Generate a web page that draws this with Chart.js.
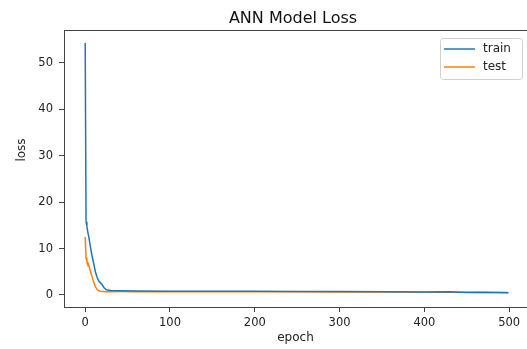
<!DOCTYPE html>
<html>
<head>
<meta charset="utf-8">
<script src="https://cdn.jsdelivr.net/npm/chart.js@4/dist/chart.umd.min.js"></script>
<style>
  html, body { margin: 0; padding: 0; background: #fff; }
  .lineChart { width: 527px; height: 349px; }
</style>
</head>
<body>
<div class="lineChart"><canvas></canvas></div>
<script>
const epochs = [0, 1, 2, 3, 4, 6, 8, 10, 12, 14, 16, 18, 20, 22, 25, 30, 40, 60, 100, 150, 200, 250, 300, 350, 400, 430, 450, 470, 499];
const trainLoss = [54.3, 15.8, 14.8, 13.6, 12.8, 10.5, 8.5, 6.8, 5.0, 3.8, 3.0, 2.6, 2.2, 1.6, 1.1, 0.95, 0.9, 0.85, 0.8, 0.8, 0.78, 0.75, 0.72, 0.68, 0.62, 0.7, 0.55, 0.6, 0.45];
const testLoss = [12.5, 8.0, 7.2, 7.0, 6.5, 5.2, 4.0, 2.8, 1.8, 1.2, 0.9, 0.8, 0.75, 0.72, 0.7, 0.7, 0.72, 0.7, 0.7, 0.68, 0.68, 0.66, 0.65, 0.62, 0.6, 0.58, 0.58, 0.55, 0.55];
const seriesNames = ["train", "test"];
const xTicks = [0, 100, 200, 300, 400, 500];
const yTicks = [0, 10, 20, 30, 40, 50];

const BLUE = "#1f77b4";
const ORANGE = "#ff7f0e";
const FONT = "'DejaVu Sans', sans-serif";

Chart.defaults.font.family = FONT;
Chart.defaults.color = "#222";

// top spine (the right one falls just outside the picture)
const frame = {
  id: "frame",
  afterDraw(chart) {
    const { ctx, chartArea: a } = chart;
    ctx.save();
    ctx.strokeStyle = "#444";
    ctx.lineWidth = 1;
    ctx.beginPath();
    ctx.moveTo(a.left, a.top + 0.5);
    ctx.lineTo(a.right, a.top + 0.5);
    ctx.stroke();
    ctx.restore();
  }
};

// matplotlib style title, legend box and ylabel
const extras = {
  id: "extras",
  afterDraw(chart) {
    const { ctx } = chart;
    ctx.save();

    ctx.fillStyle = "#111";
    ctx.font = "16px " + FONT;
    ctx.textAlign = "center";
    ctx.textBaseline = "middle";
    ctx.fillText("ANN Model Loss", 293, 19);

    ctx.fillStyle = "rgba(255,255,255,0.8)";
    ctx.strokeStyle = "#d0d0d0";
    ctx.lineWidth = 1;
    ctx.beginPath();
    ctx.roundRect(440.5, 38.5, 82, 41, 3);
    ctx.fill();
    ctx.stroke();

    const colors = [BLUE, ORANGE];
    seriesNames.forEach((name, i) => {
      const y = 49 + i * 18;
      ctx.strokeStyle = colors[i];
      ctx.lineWidth = 1.5;
      ctx.beginPath();
      ctx.moveTo(444, y);
      ctx.lineTo(475, y);
      ctx.stroke();
      ctx.fillStyle = "#222";
      ctx.font = "12px " + FONT;
      ctx.textBaseline = "middle";
      ctx.textAlign = "left";
      ctx.fillText(name, 483, y);
    });

    ctx.translate(22, 150);
    ctx.rotate(-Math.PI / 2);
    ctx.textAlign = "center";
    ctx.textBaseline = "middle";
    ctx.font = "12px " + FONT;
    ctx.fillText("loss", 0, 0);
    ctx.restore();
  }
};

const ctx = document.querySelector(".lineChart canvas");

new Chart(ctx, {
  type: "line",
  data: {
    datasets: [
      {
        label: seriesNames[0],
        data: epochs.map((e, i) => ({ x: e, y: trainLoss[i] })),
        borderColor: BLUE,
        borderWidth: 1.5,
        pointRadius: 0,
        tension: 0
      },
      {
        label: seriesNames[1],
        data: epochs.map((e, i) => ({ x: e, y: testLoss[i] })),
        borderColor: ORANGE,
        borderWidth: 1.5,
        pointRadius: 0,
        tension: 0
      }
    ]
  },
  options: {
    responsive: true,
    maintainAspectRatio: false,
    animation: false,
    layout: { padding: { top: 30, left: 0, right: 0, bottom: 0 } },
    plugins: {
      legend: { display: false },
      tooltip: { enabled: false }
    },
    scales: {
      x: {
        type: "linear",
        min: -25,
        max: 521,
        afterFit: scale => { scale.height = 42; },
        afterBuildTicks: scale => { scale.ticks = xTicks.map(v => ({ value: v })); },
        grid: { drawOnChartArea: false, drawTicks: true, tickLength: 5, color: "#444" },
        border: { display: true, color: "#444" },
        ticks: { padding: 4, font: { size: 11.5 }, maxRotation: 0 },
        title: { display: true, text: "epoch", font: { size: 12 }, padding: { top: 0, bottom: 4 } }
      },
      y: {
        type: "linear",
        min: -2.6,
        max: 57.1,
        afterFit: scale => { scale.width = 64; },
        afterBuildTicks: scale => { scale.ticks = yTicks.map(v => ({ value: v })); },
        grid: { drawOnChartArea: false, drawTicks: true, tickLength: 5, color: "#444" },
        border: { display: true, color: "#444" },
        ticks: { padding: 6, font: { size: 11.5 } }
      }
    }
  },
  plugins: [frame, extras]
});
</script>
</body>
</html>
